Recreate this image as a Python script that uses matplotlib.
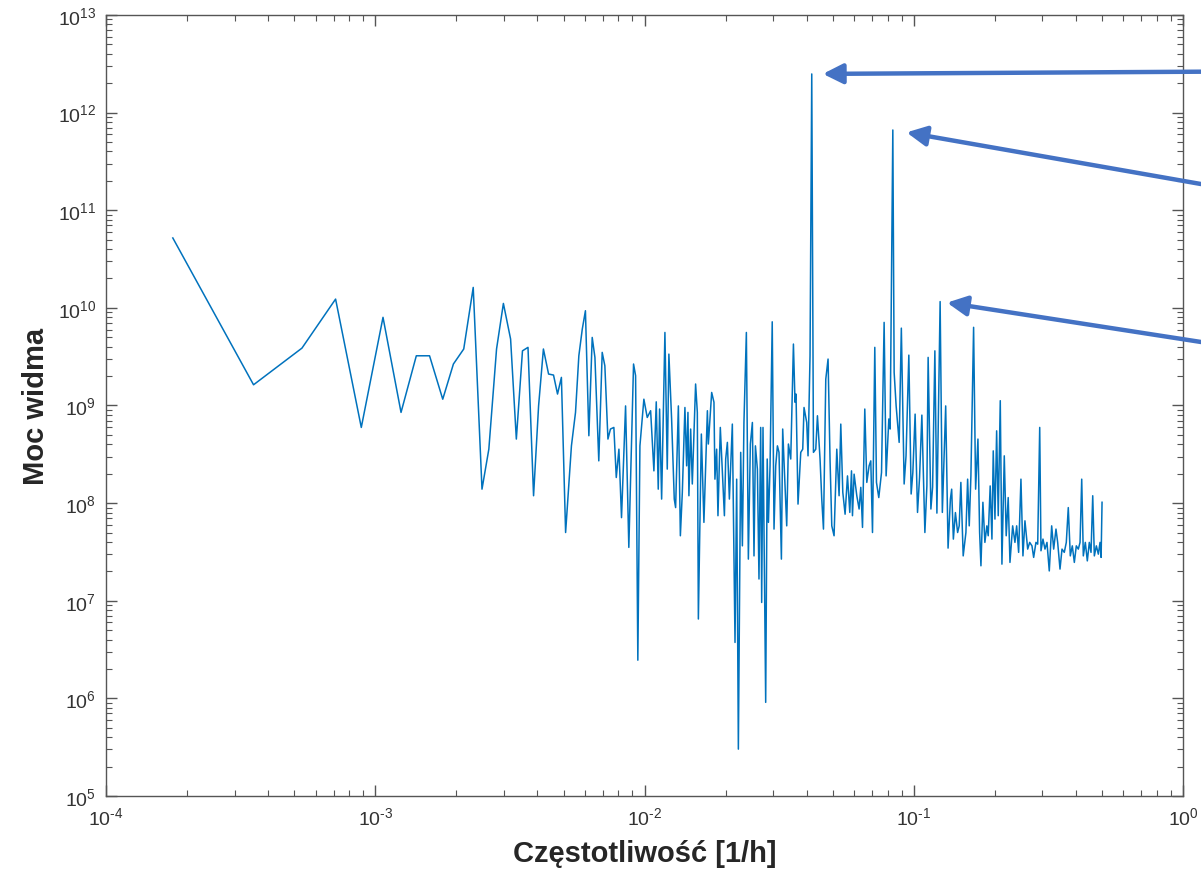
import matplotlib
matplotlib.use('Agg')
import matplotlib.pyplot as plt
import numpy as np
from matplotlib.ticker import LogLocator, FuncFormatter, NullFormatter

plt.rcParams['font.family'] = ['Liberation Sans', 'DejaVu Sans']
plt.rcParams['mathtext.fontset'] = 'custom'
plt.rcParams['mathtext.rm'] = 'Liberation Sans'
plt.rcParams['mathtext.it'] = 'Liberation Sans:italic'
plt.rcParams['mathtext.bf'] = 'Liberation Sans:bold'

# widmo mocy - niskie czestotliwosci (< 0.01 1/h)
freq_low = [1.77e-4, 3.53e-4, 5.34e-4, 7.12e-4, 8.87e-4, 1.068e-3, 1.246e-3, 1.42e-3, 1.59e-3, 1.78e-3,
            1.95e-3, 2.13e-3, 2.31e-3, 2.49e-3, 2.64e-3, 2.82e-3, 2.99e-3, 3.18e-3, 3.34e-3, 3.52e-3,
            3.69e-3, 3.87e-3, 4.04e-3, 4.21e-3, 4.40e-3, 4.59e-3, 4.75e-3, 4.91e-3, 5.09e-3, 5.35e-3,
            5.54e-3, 5.70e-3, 5.87e-3, 6.03e-3, 6.21e-3, 6.39e-3, 6.54e-3, 6.76e-3, 6.96e-3, 7.12e-3,
            7.31e-3, 7.47e-3, 7.69e-3, 7.85e-3, 8.03e-3, 8.21e-3, 8.50e-3, 8.74e-3, 9.10e-3, 9.26e-3,
            9.44e-3, 9.61e-3, 9.94e-3]
power_low = [5.2e10, 1.63e9, 3.87e9, 1.23e10, 5.96e8, 8.0e9, 8.5e8, 3.23e9, 3.23e9, 1.16e9,
             2.66e9, 3.79e9, 1.62e10, 1.39e8, 3.57e8, 3.79e9, 1.11e10, 4.79e9, 4.53e8, 3.63e9,
             3.94e9, 1.19e8, 9.9e8, 3.79e9, 2.10e9, 2.05e9, 1.31e9, 1.94e9, 5.0e7, 3.86e8,
             8.5e8, 3.23e9, 6.06e9, 9.35e9, 4.9e8, 4.98e9, 3.11e9, 2.71e8, 3.5e9, 2.55e9,
             4.53e8, 5.74e8, 5.96e8, 1.83e8, 3.57e8, 7.1e7, 9.9e8, 3.52e7, 2.66e9, 2.02e9,
             2.46e6, 3.86e8, 1.16e9]

# srednie czestotliwosci (0.01 - 0.1 1/h)
freq_mid = [1.023e-2, 1.053e-2, 1.083e-2, 1.105e-2, 1.124e-2, 1.137e-2, 1.157e-2, 1.190e-2, 1.214e-2, 1.231e-2,
            1.260e-2, 1.289e-2, 1.304e-2, 1.335e-2, 1.358e-2, 1.381e-2, 1.412e-2, 1.433e-2, 1.449e-2, 1.461e-2,
            1.483e-2, 1.504e-2, 1.547e-2, 1.570e-2, 1.584e-2, 1.625e-2, 1.661e-2, 1.711e-2, 1.725e-2, 1.775e-2,
            1.810e-2, 1.825e-2, 1.852e-2, 1.873e-2, 1.911e-2, 1.945e-2, 1.979e-2, 2.001e-2, 2.030e-2, 2.065e-2,
            2.118e-2, 2.167e-2, 2.198e-2, 2.230e-2, 2.275e-2, 2.308e-2, 2.339e-2, 2.388e-2, 2.429e-2, 2.471e-2,
            2.514e-2, 2.549e-2, 2.580e-2, 2.624e-2, 2.660e-2, 2.699e-2, 2.722e-2, 2.753e-2, 2.817e-2, 2.854e-2,
            2.884e-2, 2.924e-2, 2.979e-2, 3.025e-2, 3.069e-2, 3.114e-2, 3.157e-2, 3.222e-2, 3.258e-2, 3.294e-2,
            3.372e-2, 3.421e-2, 3.490e-2, 3.571e-2, 3.620e-2, 3.651e-2, 3.714e-2, 3.802e-2, 3.867e-2, 3.910e-2,
            4.001e-2, 4.046e-2, 4.116e-2, 4.177e-2, 4.238e-2, 4.323e-2, 4.385e-2, 4.484e-2, 4.550e-2, 4.617e-2,
            4.709e-2, 4.802e-2, 4.885e-2, 4.957e-2, 5.055e-2, 5.174e-2, 5.277e-2, 5.354e-2, 5.447e-2, 5.555e-2,
            5.670e-2, 5.783e-2, 5.868e-2, 5.917e-2, 6.000e-2, 6.140e-2, 6.262e-2, 6.353e-2, 6.447e-2, 6.574e-2,
            6.688e-2, 6.821e-2, 6.920e-2, 7.022e-2, 7.161e-2, 7.265e-2, 7.410e-2, 7.585e-2, 7.756e-2, 7.889e-2,
            8.075e-2, 8.165e-2, 8.355e-2, 8.450e-2, 8.595e-2, 8.820e-2, 8.986e-2, 9.204e-2, 9.354e-2, 9.581e-2,
            9.772e-2, 9.915e-2]
power_mid = [7.54e8, 8.84e8, 2.14e8, 1.09e9, 1.39e8, 9.2e8, 1.1e8, 5.6e9, 2.23e8, 3.36e9,
             7.28e8, 1.1e8, 9.0e7, 9.9e8, 4.63e7, 1.29e8, 9.54e8, 2.41e8, 8.5e8, 1.19e8,
             5.74e8, 1.57e8, 1.66e9, 8.5e8, 6.5e6, 5.1e8, 6.35e7, 8.84e8, 4.03e8, 1.36e9,
             1.08e9, 1.76e8, 3.57e8, 7.43e7, 5.96e8, 2.06e8, 7.43e7, 2.83e8, 4.19e8, 1.1e8,
             6.45e8, 3.74e6, 1.76e8, 3.02e5, 3.31e8, 3.65e7, 6.7e8, 5.6e9, 2.67e7, 4.03e8,
             6.7e8, 2.88e7, 3.86e8, 2.23e8, 1.67e7, 5.96e8, 9.6e6, 5.96e8, 9.1e5, 2.83e8,
             6.35e7, 2.41e8, 7.2e9, 5.42e7, 2.41e8, 3.86e8, 3.31e8, 2.67e7, 5.74e8, 2.71e8,
             5.85e7, 4.03e8, 2.83e8, 4.26e9, 1.08e9, 1.31e9, 9.77e7, 3.31e8, 3.57e8, 9.54e8,
             6.7e8, 3.05e8, 3.23e9, 2.49e12, 3.31e8, 3.57e8, 7.85e8, 2.83e8, 1.1e8, 5.42e7,
             1.86e9, 2.99e9, 2.71e8, 5.85e7, 4.63e7, 3.57e8, 1.19e8, 6.45e8, 1.29e8, 7.7e7,
             1.9e8, 8.03e7, 2.14e8, 7.43e7, 1.98e8, 1.19e8, 8.7e7, 1.45e8, 5.64e7, 9.2e8,
             1.63e8, 2.41e8, 2.71e8, 5.0e7, 3.94e9, 1.63e8, 1.14e8, 2.06e8, 7.1e9, 1.9e8,
             7.28e8, 5.74e8, 6.64e11, 2.18e9, 9.9e8, 4.19e8, 6.2e9, 1.57e8, 3.05e8, 3.28e9,
             1.24e8, 2.06e8]

# wysokie czestotliwosci (0.1 - 0.5 1/h)
freq_high = [0.1011, 0.1032, 0.1050, 0.1071, 0.1099, 0.1118, 0.1130, 0.1157, 0.1174, 0.1197,
             0.1218, 0.1252, 0.1276, 0.1313, 0.1340, 0.1367, 0.1382, 0.1402, 0.1427, 0.1454,
             0.1474, 0.1495, 0.1525, 0.1561, 0.1584, 0.1606, 0.1629, 0.1667, 0.1696, 0.1730,
             0.1755, 0.1775, 0.1805, 0.1836, 0.1867, 0.1889, 0.1921, 0.1950, 0.1972, 0.2001,
             0.2030, 0.2058, 0.2094, 0.2124, 0.2167, 0.2203, 0.2241, 0.2275, 0.2328, 0.2374,
             0.2409, 0.2450, 0.2499, 0.2542, 0.2586, 0.2647, 0.2693, 0.2746, 0.2786, 0.2841,
             0.2884, 0.2934, 0.2966, 0.3017, 0.3069, 0.3122, 0.3184, 0.3250, 0.3306, 0.3372,
             0.3421, 0.3490, 0.3550, 0.3620, 0.3683, 0.3746, 0.3811, 0.3877, 0.3945, 0.4012,
             0.4082, 0.4142, 0.4202, 0.4260, 0.4333, 0.4408, 0.4484, 0.4550, 0.4617, 0.4681,
             0.4762, 0.4844, 0.4915, 0.4960, 0.5000]
power_high = [8.16e8, 8.03e7, 1.83e8, 7.97e8, 5.0e7, 1.5e8, 3.11e9, 8.7e7, 1.46e8, 3.63e9,
              7.9e7, 1.16e10, 8.03e7, 9.9e8, 3.46e7, 1.1e8, 1.39e8, 4.28e7, 8.0e7, 5.0e7,
              5.85e7, 1.63e8, 2.88e7, 5.0e7, 1.76e8, 5.85e7, 1.9e8, 6.32e9, 1.39e8, 4.53e8,
              5.0e7, 2.28e7, 1.02e8, 3.96e7, 5.85e7, 4.63e7, 1.5e8, 4.28e7, 3.43e8, 6.86e7,
              5.5e8, 7.43e7, 1.12e9, 2.37e7, 3.05e8, 4.63e7, 1.14e8, 2.47e7, 5.85e7, 3.96e7,
              5.85e7, 3.13e7, 1.76e8, 2.88e7, 6.59e7, 3.38e7, 3.96e7, 3.65e7, 2.78e7, 3.96e7,
              3.8e7, 5.96e8, 3.25e7, 4.28e7, 3.38e7, 3.96e7, 2.02e7, 5.85e7, 3.38e7, 5.42e7,
              3.96e7, 2.11e7, 3.38e7, 3.13e7, 3.96e7, 9.0e7, 2.88e7, 3.65e7, 2.47e7, 3.65e7,
              3.38e7, 3.96e7, 1.76e8, 2.88e7, 3.96e7, 2.56e7, 3.96e7, 3.13e7, 1.19e8, 2.88e7,
              3.65e7, 3.0e7, 3.96e7, 2.78e7, 1.02e8]

# piki zaznaczone strzalkami (okresy 24 h, 12 h, 8 h)
peak_freq = [4.177e-2, 8.355e-2, 0.1252]
peak_power = [2.49e12, 6.64e11, 1.16e10]

freq = np.array(freq_low + freq_mid + freq_high)
power = np.array(power_low + power_mid + power_high)


def pow10_label(v, pos):
    # etykiety w stylu MATLAB: 10 z wykladnikiem, zwykly lacznik zamiast minusa
    e = int(round(np.log10(v)))
    if e < 0:
        return r'$\mathdefault{10^{\text{-}%d}}$' % (-e)
    return r'$\mathdefault{10^{%d}}$' % e


fig = plt.figure(figsize=(12.01, 8.79), dpi=100)
ax = fig.add_axes([0.0883, 0.0933, 0.8968, 0.8885])

ax.loglog(freq, power, color='#0072BD', lw=1.1)

ax.set_xlim(1e-4, 1)
ax.set_ylim(1e5, 1e13)

ax.xaxis.set_major_locator(LogLocator(base=10, numticks=10))
ax.yaxis.set_major_locator(LogLocator(base=10, numticks=12))
ax.xaxis.set_minor_locator(LogLocator(base=10, subs=np.arange(2, 10), numticks=50))
ax.yaxis.set_minor_locator(LogLocator(base=10, subs=np.arange(2, 10), numticks=50))
ax.xaxis.set_major_formatter(FuncFormatter(pow10_label))
ax.yaxis.set_major_formatter(FuncFormatter(pow10_label))
ax.xaxis.set_minor_formatter(NullFormatter())
ax.yaxis.set_minor_formatter(NullFormatter())

axis_col = '#555555'
for s in ax.spines.values():
    s.set_color(axis_col)
    s.set_linewidth(1.0)
ax.tick_params(which='both', direction='in', top=True, right=True, colors=axis_col,
               labelcolor='#333333', labelsize=14)
ax.tick_params(which='major', length=8, width=1.0, pad=7)
ax.tick_params(which='minor', length=4, width=0.8)

ax.set_xlabel('Częstotliwość [1/h]', fontsize=21, fontweight='bold', color='#262626', labelpad=8)
ax.set_ylabel('Moc widma', fontsize=21, fontweight='bold', color='#262626', labelpad=6)

# strzalki wskazujace piki - wychodza z prawej krawedzi rysunku
arrow_start = [(1.0, 0.9173), (1.0, 0.7895), (1.0, 0.6098)]
shrink = [8, 10, 5]
for f, p, start, sh in zip(peak_freq, peak_power, arrow_start, shrink):
    ax.annotate('', xy=(f, p), xycoords='data', xytext=start, textcoords='figure fraction',
                annotation_clip=False,
                arrowprops=dict(arrowstyle='-|>', color='#4472C4', lw=3.2, mutation_scale=30,
                                shrinkA=0, shrinkB=sh))

fig.savefig('out.png', dpi=100)
